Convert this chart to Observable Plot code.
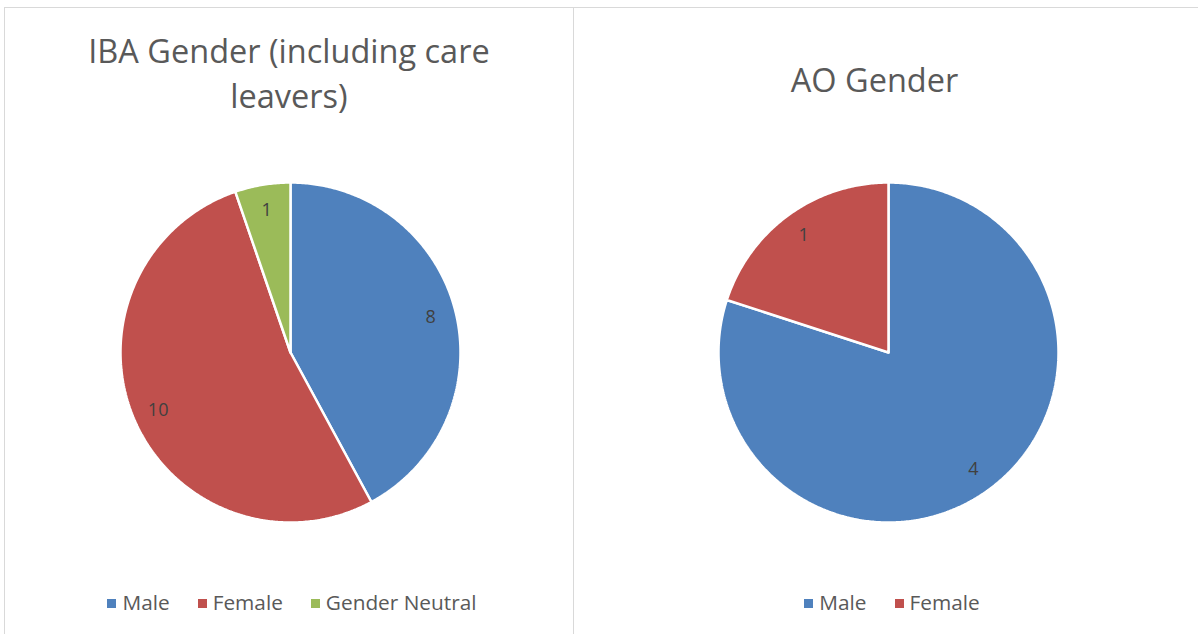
<!DOCTYPE html>
<html>
<head>
<meta charset="utf-8">
<script src="https://cdn.jsdelivr.net/npm/d3@7"></script>
<script src="https://cdn.jsdelivr.net/npm/@observablehq/plot@0.6"></script>
<style>
  html, body { margin: 0; padding: 0; background: #fff; }
  #root { position: relative; width: 1198px; height: 634px; overflow: hidden; font-family: "Open Sans", sans-serif; }
  .panel { position: absolute; box-sizing: border-box; border: 1px solid #d9d9d9; background: #fff; }
  .title { position: absolute; left: 0; text-align: center; color: #595959; font-size: 32.5px; line-height: 45px; }
  .pie { position: absolute; }
  .legend { position: absolute; right: 0; text-align: center; color: #595959; font-size: 20.8px; white-space: nowrap; }
  .legend span.item { display: inline-block; margin: 0 14px; }
  .legend span.sw { display: inline-block; width: 9px; height: 9px; margin-right: 6px; vertical-align: 2px; }
</style>
</head>
<body>
<div id="root"></div>
<script>
// ---- data ----
const ibaCategories = ["Male", "Female", "Gender Neutral"];
const ibaValues = [8, 10, 1];
const aoCategories = ["Male", "Female"];
const aoValues = [4, 1];
const categoryColors = ["#4F81BD", "#C0504D", "#9BBB59"];
const ibaTitle = ["IBA Gender (including care", "leavers)"];
const aoTitle = ["AO Gender"];

const allCategories = ["Male", "Female", "Gender Neutral"];

function piePlot(categories, values) {
  const pie = d3.pie().sort(null).value(d => d)(values);
  const pts = [];
  const labels = [];
  pie.forEach((s, i) => {
    const cat = categories[i];
    pts.push({cat, x: 0, y: 0});
    const n = Math.max(2, Math.ceil((s.endAngle - s.startAngle) / 0.01));
    for (let k = 0; k <= n; k++) {
      const a = s.startAngle + (s.endAngle - s.startAngle) * k / n;
      pts.push({cat, x: Math.sin(a), y: Math.cos(a)});
    }
    pts.push({cat, x: 0, y: 0});
    const m = (s.startAngle + s.endAngle) / 2;
    labels.push({cat, value: values[i], x: 0.85 * Math.sin(m), y: 0.85 * Math.cos(m)});
  });
  return Plot.plot({
    width: 350, height: 350, margin: 5,
    x: {domain: [-1, 1], axis: null},
    y: {domain: [-1, 1], axis: null},
    color: {domain: allCategories, range: categoryColors},
    style: {background: "transparent", overflow: "visible"},
    marks: [
      Plot.line(pts, {x: "x", y: "y", z: "cat", fill: "cat", stroke: "white", strokeWidth: 2.5, strokeLinejoin: "miter", curve: "linear"}),
      Plot.text(labels, {x: "x", y: "y", text: d => String(d.value), fill: "#404040", fontSize: 18, fontFamily: "Open Sans, sans-serif"})
    ]
  });
}

function panel(root, {left, top, width, height, titleLines, titleTop, titleRight, categories, values, pieLeft, pieTop, legendTop, legendLeft}) {
  const p = document.createElement("div");
  p.className = "panel";
  Object.assign(p.style, {left: left + "px", top: top + "px", width: width + "px", height: height + "px"});
  const t = document.createElement("div");
  t.className = "title";
  t.style.top = titleTop + "px";
  t.style.right = titleRight + "px";
  t.innerHTML = titleLines.map(s => s.replace(/&/g, "&amp;")).join("<br>");
  p.appendChild(t);
  const svgWrap = document.createElement("div");
  svgWrap.className = "pie";
  svgWrap.style.left = pieLeft + "px";
  svgWrap.style.top = pieTop + "px";
  svgWrap.appendChild(piePlot(categories, values));
  p.appendChild(svgWrap);
  const lg = document.createElement("div");
  lg.className = "legend";
  lg.style.top = legendTop + "px";
  lg.style.left = legendLeft + "px";
  categories.forEach((c) => {
    const it = document.createElement("span");
    it.className = "item";
    const sw = document.createElement("span");
    sw.className = "sw";
    sw.style.background = categoryColors[allCategories.indexOf(c)];
    it.appendChild(sw);
    it.appendChild(document.createTextNode(c));
    lg.appendChild(it);
  });
  p.appendChild(lg);
  root.appendChild(p);
}

const root = document.getElementById("root");
panel(root, {left: 4, top: 7, width: 570, height: 640, titleLines: ibaTitle, titleTop: 20, titleRight: 0,
  categories: ibaCategories, values: ibaValues, pieLeft: 109.5, pieTop: 169, legendTop: 580, legendLeft: 6});
panel(root, {left: 573, top: 7, width: 626, height: 640, titleLines: aoTitle, titleTop: 49, titleRight: 23,
  categories: aoCategories, values: aoValues, pieLeft: 139, pieTop: 169, legendTop: 580, legendLeft: 12});
</script>
</body>
</html>
